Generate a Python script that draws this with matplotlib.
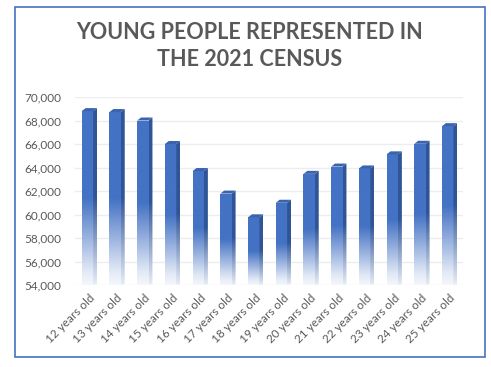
import numpy as np
import matplotlib
matplotlib.use("Agg")
import matplotlib.pyplot as plt
from matplotlib.colors import LinearSegmentedColormap
from matplotlib.patches import Polygon, Rectangle

categories = ["12 years old", "13 years old", "14 years old", "15 years old",
              "16 years old", "17 years old", "18 years old", "19 years old",
              "20 years old", "21 years old", "22 years old", "23 years old",
              "24 years old", "25 years old"]
values = [68800, 68720, 68000, 66000, 63700, 61780, 59760,
          61000, 63460, 64080, 63920, 65120, 66020, 67520]
yticks = [54000, 56000, 58000, 60000, 62000, 64000, 66000, 68000, 70000]
title = "YOUNG PEOPLE REPRESENTED IN\nTHE 2021 CENSUS"

W, H = 491, 367
fig = plt.figure(figsize=(W / 100, H / 100), dpi=100)
fig.patch.set_facecolor("white")

# outer border
fig.patches.append(Rectangle((15 / W, 1 - 357 / H), 470 / W, 350 / H,
                             transform=fig.transFigure, fill=False,
                             edgecolor="#4472C4", linewidth=1.2))

fig.text(250 / W, 1 - 46 / H, title, ha="center", va="center",
         fontsize=15.5, fontweight="bold", color="#595959",
         family="Lato", linespacing=1.4)

ax = fig.add_axes([75 / W, 82 / H, 388 / W, 188 / H])
ymin, ymax = 54000, 70000
ax.set_xlim(-0.5, len(categories) - 0.5)
ax.set_ylim(ymin, ymax)
for s in ax.spines.values():
    s.set_visible(False)
ax.set_yticks(yticks)
ax.set_yticklabels([f"{v:,}" for v in yticks])
ax.yaxis.grid(True, color="#EDEDED", linewidth=1)
ax.set_axisbelow(True)
ax.tick_params(axis="both", length=0, colors="#595959", labelsize=8.5)
ax.tick_params(axis="y", pad=10)
ax.tick_params(axis="x", pad=5)
ax.set_xticks(range(len(categories)))
ax.set_xticklabels(categories, rotation=45, ha="right", rotation_mode="anchor")
for lab in ax.get_xticklabels() + ax.get_yticklabels():
    lab.set_family("Lato")

front_cmap = LinearSegmentedColormap.from_list(
    "front", [(0.0, "#F4F7FC"), (0.08, "#E2E9F6"), (0.5, "#4472C4"), (1.0, "#4472C4")])
side_cmap = LinearSegmentedColormap.from_list(
    "side", [(0.0, "#E8EDF7"), (0.5, "#2F5597"), (1.0, "#2F5597")])

bw = 0.41
sw = 0.14
grad = np.linspace(0, 1, 256).reshape(-1, 1)
dy = 3 / 188 * (ymax - ymin)
for i, v in enumerate(values):
    x0 = i - 0.55 * bw - 0.03
    front = ax.bar(x0 + bw / 2, v - ymin, bottom=ymin, width=bw,
                   color="none", edgecolor="none")[0]
    im = ax.imshow(grad, extent=(x0, x0 + bw, ymin, v), origin="lower",
                   aspect="auto", cmap=front_cmap, zorder=2)
    im.set_clip_path(front)
    side = Polygon([(x0 + bw, ymin), (x0 + bw + sw, ymin + dy * 0.3),
                    (x0 + bw + sw, v + dy), (x0 + bw, v)],
                   closed=True, facecolor="none", edgecolor="none")
    ax.add_patch(side)
    im2 = ax.imshow(grad, extent=(x0 + bw, x0 + bw + sw, ymin, v + dy),
                    origin="lower", aspect="auto", cmap=side_cmap, zorder=2)
    im2.set_clip_path(side)
    cap = Polygon([(x0, v), (x0 + sw, v + dy), (x0 + bw + sw, v + dy),
                   (x0 + bw, v)], closed=True, facecolor="#3B64AE",
                  edgecolor="none", zorder=3)
    ax.add_patch(cap)

ax.set_xlim(-0.5, len(categories) - 0.5)
ax.set_ylim(ymin, ymax)

fig.savefig("out.png", dpi=100, facecolor="white")
